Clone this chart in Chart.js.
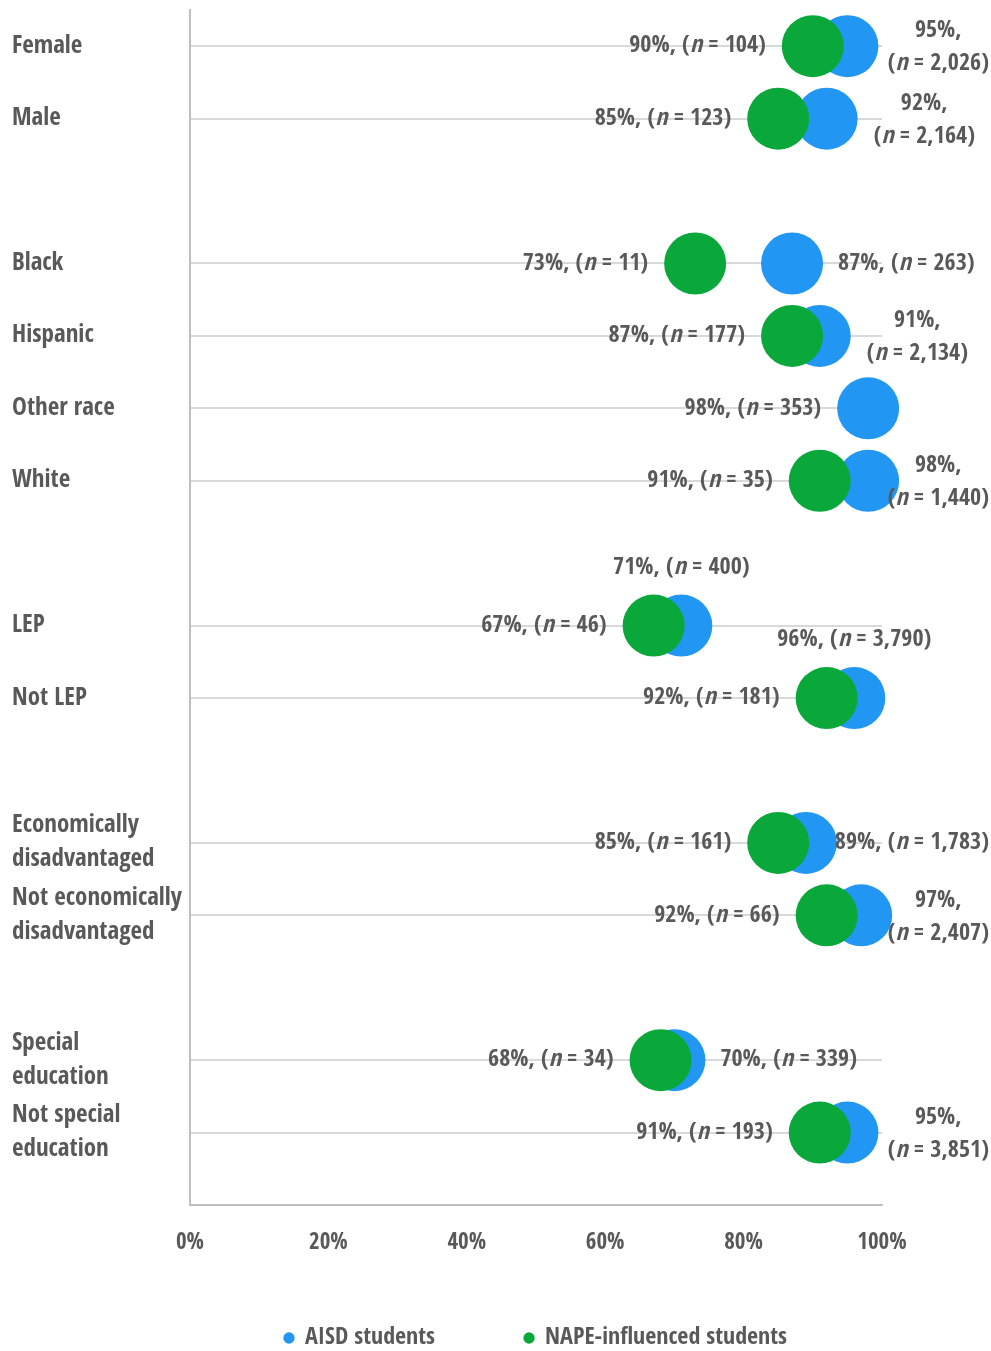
<!DOCTYPE html>
<html>
<head>
<meta charset="utf-8">
<script src="https://cdn.jsdelivr.net/npm/chart.js@4.4.1/dist/chart.umd.min.js"></script>
<style>
  html, body { margin: 0; padding: 0; background: #fff; }
</style>
</head>
<body>
<canvas id="chart-grad" width="991" height="1351"></canvas>
<script>
// groups of categories, a blank row is left between groups
const groups = [
  ["Female", "Male"],
  ["Black", "Hispanic", "Other race", "White"],
  ["LEP", "Not LEP"],
  [["Economically", "disadvantaged"], ["Not economically", "disadvantaged"]],
  [["Special", "education"], ["Not special", "education"]],
];

const aisdPct = [95, 92, 87, 91, 98, 98, 71, 96, 89, 97, 70, 95];
const aisdN = [2026, 2164, 263, 2134, 353, 1440, 400, 3790, 1783, 2407, 339, 3851];
const napePct = [90, 85, 73, 87, null, 91, 67, 92, 85, 92, 68, 91];
const napeN = [104, 123, 11, 177, null, 35, 46, 181, 161, 66, 34, 193];

const xTicks = [0, 20, 40, 60, 80, 100];

// where the AISD label goes relative to its dot
const aisdLabelSide = [
  "right2", "right2", "right", "right2", "left", "right2",
  "above", "above", "right", "right2", "right", "right2",
];

const BLUE = "#2196f3";
const GREEN = "#0aa83a";
const TEXT = "#595959";
const FONT = "'Open Sans Condensed', 'Open Sans', sans-serif";
const LABEL_SIZE = 24;

const categories = [];
const rows = [];
let r = 0;
groups.forEach((g) => {
  g.forEach((c) => {
    categories.push(c);
    rows.push(r++);
  });
  r++;
});
const lastRow = rows[rows.length - 1];

// runs of text, the "n" is italic
function fmt(n) {
  return n.toLocaleString("en-US");
}
function oneLine(pct, n) {
  return [
    { text: `${pct}%, (` },
    { text: "n", italic: true },
    { text: ` = ${fmt(n)})` },
  ];
}
function setFont(ctx, run) {
  ctx.font = `${run.italic ? "italic " : ""}bold ${LABEL_SIZE}px ${FONT}`;
}
function runWidth(ctx, runs) {
  return runs.reduce((w, run) => {
    setFont(ctx, run);
    return w + ctx.measureText(run.text).width;
  }, 0);
}
function drawRuns(ctx, runs, x, y) {
  runs.forEach((run) => {
    setFont(ctx, run);
    ctx.fillText(run.text, x, y);
    x += ctx.measureText(run.text).width;
  });
}

const pointLabels = {
  id: "pointLabels",
  afterDatasetsDraw(chart) {
    const ctx = chart.ctx;
    const W = chart.width;
    ctx.save();
    ctx.fillStyle = TEXT;
    ctx.textAlign = "left";
    ctx.textBaseline = "middle";

    const nape = chart.getDatasetMeta(1);
    napePct.forEach((v, i) => {
      if (v === null) return;
      const pt = nape.data[i];
      const runs = oneLine(v, napeN[i]);
      const w = runWidth(ctx, runs);
      drawRuns(ctx, runs, pt.x - 47 - w, pt.y);
    });

    const aisd = chart.getDatasetMeta(0);
    aisdPct.forEach((v, i) => {
      const pt = aisd.data[i];
      const side = aisdLabelSide[i];
      if (side === "right2") {
        const l1 = [{ text: `${v}%,` }];
        const l2 = [{ text: "(" }, { text: "n", italic: true }, { text: ` = ${fmt(aisdN[i])})` }];
        const w1 = runWidth(ctx, l1);
        const w2 = runWidth(ctx, l2);
        const bw = Math.max(w1, w2);
        const x0 = Math.min(pt.x + 47, W - 2 - bw);
        drawRuns(ctx, l1, x0 + (bw - w1) / 2, pt.y - 15);
        drawRuns(ctx, l2, x0 + (bw - w2) / 2, pt.y + 18);
        return;
      }
      const runs = oneLine(v, aisdN[i]);
      const w = runWidth(ctx, runs);
      if (side === "left") {
        drawRuns(ctx, runs, pt.x - 47 - w, pt.y);
      } else if (side === "above") {
        drawRuns(ctx, runs, pt.x - w / 2, pt.y - 58);
      } else {
        drawRuns(ctx, runs, Math.min(pt.x + 46, W - 2 - w), pt.y);
      }
    });
    ctx.restore();
  },
};

Chart.defaults.font.family = FONT;
Chart.defaults.color = TEXT;

const ctx = document.querySelector("#chart-grad").getContext("2d");

new Chart(ctx, {
  type: "scatter",
  data: {
    datasets: [
      {
        label: "AISD students",
        data: aisdPct.map((v, i) => ({ x: v, y: rows[i] })),
        backgroundColor: BLUE,
        borderWidth: 0,
        pointRadius: 31,
        pointHoverRadius: 31,
        clip: false,
        order: 1,
      },
      {
        label: "NAPE-influenced students",
        data: napePct.map((v, i) => ({ x: v, y: rows[i] })),
        backgroundColor: GREEN,
        borderWidth: 0,
        pointRadius: 31,
        pointHoverRadius: 31,
        clip: false,
        order: 0,
      },
    ],
  },
  options: {
    responsive: false,
    animation: false,
    events: [],
    layout: {
      autoPadding: false,
      padding: { top: 10, left: 12, right: 109, bottom: 0 },
    },
    scales: {
      x: {
        type: "linear",
        min: 0,
        max: 100,
        afterBuildTicks: (s) => {
          s.ticks = xTicks.map((v) => ({ value: v }));
        },
        afterFit: (s) => {
          s.height = 52;
        },
        grid: { display: false },
        border: { display: true, color: "#bfbfbf", width: 2 },
        ticks: {
          callback: (v) => v + "%",
          padding: 16,
          maxRotation: 0,
          color: TEXT,
          font: { size: 23, weight: "bold" },
        },
      },
      y: {
        type: "linear",
        reverse: true,
        min: -0.5,
        max: lastRow + 1,
        afterBuildTicks: (s) => {
          s.ticks = rows.map((v) => ({ value: v }));
        },
        afterFit: (s) => {
          s.width = 178;
          s.paddingTop = 0;
          s.paddingBottom = 0;
        },
        grid: { color: "#d9d9d9", lineWidth: 2, drawTicks: false },
        border: { display: true, color: "#bfbfbf", width: 2 },
        ticks: {
          autoSkip: false,
          crossAlign: "far",
          callback: (v, i) => categories[i],
          color: TEXT,
          font: { size: 25, weight: "bold", lineHeight: 1.36 },
        },
      },
    },
    plugins: {
      tooltip: { enabled: false },
      legend: {
        position: "bottom",
        fullSize: false,
        maxHeight: 94,
        // empty title with negative padding pulls the row up, so the
        // wide item padding does not push it off the canvas
        title: { display: true, text: "", font: { size: 10 }, padding: { top: -33, bottom: 0 } },
        labels: {
          usePointStyle: true,
          pointStyle: "circle",
          boxWidth: 8,
          boxHeight: 8,
          padding: 90,
          color: TEXT,
          font: { size: 24, weight: "bold" },
          sort: (a, b) => a.datasetIndex - b.datasetIndex,
        },
      },
    },
  },
  plugins: [pointLabels],
});
</script>
</body>
</html>
